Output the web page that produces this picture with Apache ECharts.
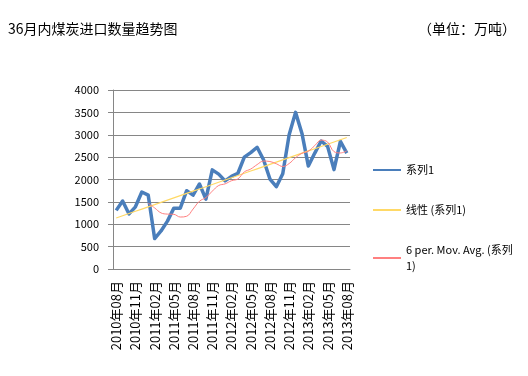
<!DOCTYPE html>
<html>
<head>
<meta charset="utf-8">
<script src="https://cdn.jsdelivr.net/npm/echarts@6/dist/echarts.min.js"></script>
<style>
  html, body { margin: 0; padding: 0; background: #fff; }
  #chart { width: 528px; height: 376px; }
</style>
</head>
<body>
<div id="chart"></div>
<script>
// 月份
var months = [
  '2010年08月', '2010年09月', '2010年10月', '2010年11月', '2010年12月', '2011年01月',
  '2011年02月', '2011年03月', '2011年04月', '2011年05月', '2011年06月', '2011年07月',
  '2011年08月', '2011年09月', '2011年10月', '2011年11月', '2011年12月', '2012年01月',
  '2012年02月', '2012年03月', '2012年04月', '2012年05月', '2012年06月', '2012年07月',
  '2012年08月', '2012年09月', '2012年10月', '2012年11月', '2012年12月', '2013年01月',
  '2013年02月', '2013年03月', '2013年04月', '2013年05月', '2013年06月', '2013年07月',
  '2013年08月'
];
// 系列1 (万吨)
var series1 = [
  1310, 1520, 1230, 1390, 1720, 1650, 680, 850, 1070, 1360, 1360, 1750,
  1650, 1900, 1560, 2215, 2120, 1970, 2070, 2140, 2500, 2600, 2720, 2440,
  2010, 1840, 2130, 3000, 3500, 3030, 2300, 2590, 2860, 2740, 2220, 2850,
  2590
];
var yTicks = [0, 500, 1000, 1500, 2000, 2500, 3000, 3500, 4000];

// 线性趋势 (最小二乘)
function linearTrend(arr) {
  var n = arr.length, sx = 0, sy = 0, sxy = 0, sxx = 0;
  for (var i = 0; i < n; i++) {
    sx += i; sy += arr[i]; sxy += i * arr[i]; sxx += i * i;
  }
  var b = (n * sxy - sx * sy) / (n * sxx - sx * sx);
  var a = (sy - b * sx) / n;
  return arr.map(function (v, i) { return +(a + b * i).toFixed(1); });
}
// 6 期移动平均
function movAvg(arr, p) {
  return arr.map(function (v, i) {
    if (i < p - 1) return '-';
    var s = 0;
    for (var k = i - p + 1; k <= i; k++) s += arr[k];
    return +(s / p).toFixed(1);
  });
}

var font = '"Noto Sans CJK SC", "DejaVu Sans", sans-serif';
var chart = echarts.init(document.getElementById('chart'));

var option = {
  backgroundColor: '#fff',
  animation: false,
  textStyle: { fontFamily: font },
  graphic: [
    {
      type: 'text', left: 8, top: 22,
      style: { text: '36月内煤炭进口数量趋势图', font: '14px ' + font, fill: '#000' }
    },
    {
      type: 'text', left: 418, top: 22,
      style: { text: '（单位：万吨）', font: '14px ' + font, fill: '#000' }
    }
  ],
  legend: {
    orient: 'vertical',
    left: 372,
    top: 162,
    padding: 0,
    itemWidth: 28,
    itemHeight: 10,
    itemGap: 24,
    itemStyle: { opacity: 0 },
    textStyle: { fontSize: 11, color: '#000', fontFamily: font, lineHeight: 16 },
    formatter: function (name) {
      return name === '6 per. Mov. Avg. (系列1)' ? '6 per. Mov. Avg. (系列\n1)' : name;
    },
    data: ['系列1', '线性 (系列1)', '6 per. Mov. Avg. (系列1)']
  },
  grid: { left: 113, right: 178, top: 90, bottom: 107 },
  xAxis: {
    type: 'category',
    data: months,
    boundaryGap: true,
    axisLine: { lineStyle: { color: '#868686' } },
    axisTick: { interval: 0, length: 4, lineStyle: { color: '#868686' } },
    axisLabel: {
      interval: 2, rotate: 90, fontSize: 13, color: '#000', margin: 12, fontFamily: font
    }
  },
  yAxis: {
    type: 'value',
    min: yTicks[0],
    max: yTicks[yTicks.length - 1],
    interval: 500,
    axisLine: { show: true, lineStyle: { color: '#868686' } },
    axisTick: { show: true, length: 5, lineStyle: { color: '#868686' } },
    axisLabel: {
      fontSize: 11, color: '#000', margin: 14, fontFamily: font,
      formatter: function (v) { return String(v); }
    },
    splitLine: { lineStyle: { color: '#868686', width: 1 } }
  },
  series: [
    {
      name: '系列1',
      type: 'line',
      data: series1,
      symbol: 'none',
      lineStyle: { color: '#4A7EBB', width: 3.5, join: 'round' },
      itemStyle: { color: '#4A7EBB' },
      z: 3
    },
    {
      name: '线性 (系列1)',
      type: 'line',
      data: linearTrend(series1),
      symbol: 'none',
      lineStyle: { color: '#FFD966', width: 1.2 },
      itemStyle: { color: '#FFD966' },
      z: 4
    },
    {
      name: '6 per. Mov. Avg. (系列1)',
      type: 'line',
      data: movAvg(series1, 6),
      symbol: 'none',
      smooth: 0.4,
      lineStyle: { color: '#FF8080', width: 1 },
      itemStyle: { color: '#FF8080' },
      z: 4
    }
  ]
};

chart.setOption(option);
</script>
</body>
</html>
